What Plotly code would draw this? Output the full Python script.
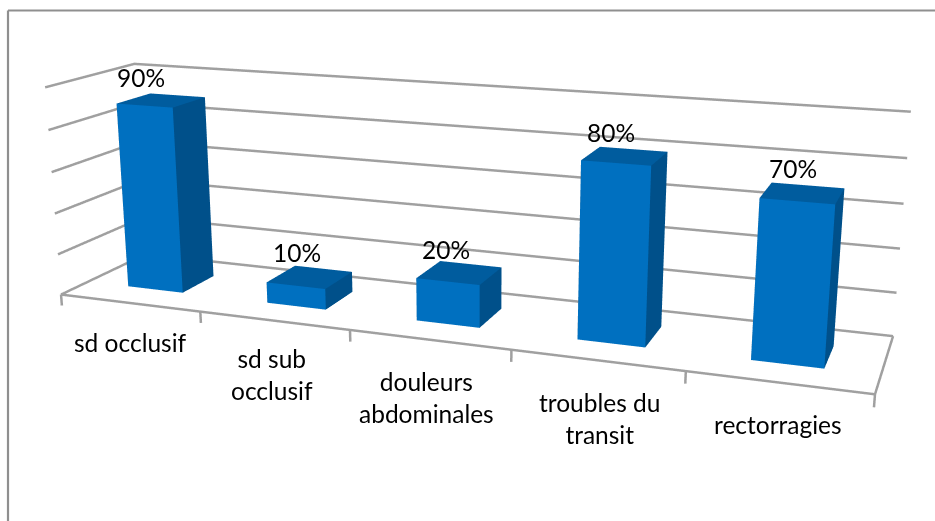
import plotly.graph_objects as go

# Chart content
categories = ["sd occlusif", "sd sub<br>occlusif", "douleurs<br>abdominales", "troubles du<br>transit", "rectorragies"]
values = [0.9, 0.1, 0.2, 0.8, 0.7]
grid_levels = [0, 0.2, 0.4, 0.6, 0.8, 1.0]

# Scene layout: the figure is larger than the window so the camera's long lens fits
PAGE_W, PAGE_H = 935, 521
FIG_W, FIG_H = 960, 1256
FIG_LEFT, FIG_TOP = -8, -381
GRID = "#a0a0a0"
FRONT, SIDE, TOP = "#0070c0", "#00508a", "#005c9e"
FONT = dict(family="Lato", size=24.5, color="#000000")

# Gap width 150 %: each bar takes about 40 % of its slot in both directions
BAR_X = (0.3, 0.7)
BAR_Y = (0.303, 0.697)
SLOTS = len(categories)

fig = go.Figure()

def bar_mesh(slot, value):
    x0, x1 = slot + BAR_X[0], slot + BAR_X[1]
    y0, y1 = BAR_Y
    xs = [x0, x1, x1, x0, x0, x1, x1, x0]
    ys = [y0, y0, y1, y1, y0, y0, y1, y1]
    zs = [0, 0, 0, 0, value, value, value, value]
    i = [0, 0, 1, 1, 4, 4, 3, 3, 0, 0, 2, 2]
    j = [1, 5, 2, 6, 5, 6, 2, 6, 3, 7, 1, 0]
    k = [5, 4, 6, 5, 6, 7, 6, 7, 7, 4, 0, 3]
    colors = [FRONT, FRONT, SIDE, SIDE, TOP, TOP, SIDE, SIDE, SIDE, SIDE, SIDE, SIDE]
    return go.Mesh3d(x=xs, y=ys, z=zs, i=i, j=j, k=k, facecolor=colors, flatshading=True,
                     lighting=dict(ambient=1, diffuse=0, specular=0, fresnel=0),
                     showscale=False, hoverinfo="skip")

# Walls and floor outline
wx, wy, wz = [], [], []
for level in grid_levels:
    wx += [0, 0, SLOTS, None]
    wy += [0, 1, 1, None]
    wz += [level, level, level, None]
wx += [0, SLOTS, SLOTS, None]
wy += [0, 0, 1, None]
wz += [0, 0, 0, None]
for slot in range(SLOTS + 1):
    wx += [slot, slot, None]
    wy += [0, 0, None]
    wz += [0, -0.055, None]
fig.add_trace(go.Scatter3d(x=wx, y=wy, z=wz, mode="lines",
                           line=dict(color=GRID, width=5), hoverinfo="skip", showlegend=False))

for slot, value in enumerate(values):
    fig.add_trace(bar_mesh(slot, value))

notes = []
name_shift = [(1, 40), (-2, 54), (-3, 58), (3, 58), (0, 42)]
for slot, name in enumerate(categories):
    notes.append(dict(x=slot + 0.5, y=0, z=0, text=name, showarrow=False, font=FONT,
                      xshift=name_shift[slot][0], yshift=-name_shift[slot][1]))
value_shift = [(-20, 23), (-13, 25), (-13, 23), (-14, 23), (-10, 25)]
for slot, value in enumerate(values):
    notes.append(dict(x=slot + 0.5, y=0.5, z=value, text=f"{value:.0%}", showarrow=False, font=FONT,
                      xshift=value_shift[slot][0], yshift=value_shift[slot][1]))

hidden = dict(visible=False, showgrid=False, zeroline=False, showspikes=False)

def paper_x(px):
    return (px - FIG_LEFT) / FIG_W

def paper_y(py):
    return 1 - (py - FIG_TOP) / FIG_H

frame = dict(type="line", xref="paper", yref="paper", line=dict(color="#8f8f8f", width=2.2))

fig.update_layout(
    width=FIG_W, height=FIG_H, autosize=False, showlegend=False,
    margin=dict(l=0, r=0, t=0, b=0), paper_bgcolor="white",
    shapes=[
        dict(frame, x0=paper_x(8), x1=paper_x(8), y0=paper_y(10.5), y1=paper_y(PAGE_H)),
        dict(frame, x0=paper_x(8), x1=paper_x(PAGE_W), y0=paper_y(10.5), y1=paper_y(10.5)),
    ],
    scene=dict(
        domain=dict(x=[0, 1], y=[0, 1]),
        xaxis=dict(hidden, range=[-0.5, 5.5]),
        yaxis=dict(hidden, range=[-1, 2]),
        zaxis=dict(hidden, range=[-1, 2]),
        aspectmode="manual",
        aspectratio=dict(x=1.53254 * 1.2, y=0.30309 * 3, z=0.40409 * 3),
        camera=dict(eye=dict(x=0.94755, y=-2.50101, z=0.67769),
                    center=dict(x=0.03821, y=-0.03664, z=-0.05871),
                    up=dict(x=0.00173, y=0.00104, z=1),
                    projection=dict(type="perspective")),
        annotations=notes,
    ),
)

# Pin the oversized figure inside a window-sized clip box
place = f"""
var box = document.createElement('div');
box.style.cssText = 'position:fixed;left:0;top:0;width:{PAGE_W}px;height:{PAGE_H}px;overflow:hidden;background:#fff';
var gd = document.getElementById('{{plot_id}}');
var holder = gd.parentElement;
holder.parentElement.insertBefore(box, holder);
box.appendChild(holder);
holder.style.cssText = 'position:absolute;left:{FIG_LEFT}px;top:{FIG_TOP}px;width:{FIG_W}px;height:{FIG_H}px';
document.body.style.margin = '0';
document.documentElement.style.overflow = 'hidden';
"""
fig.write_html("out.html", post_script=place)
